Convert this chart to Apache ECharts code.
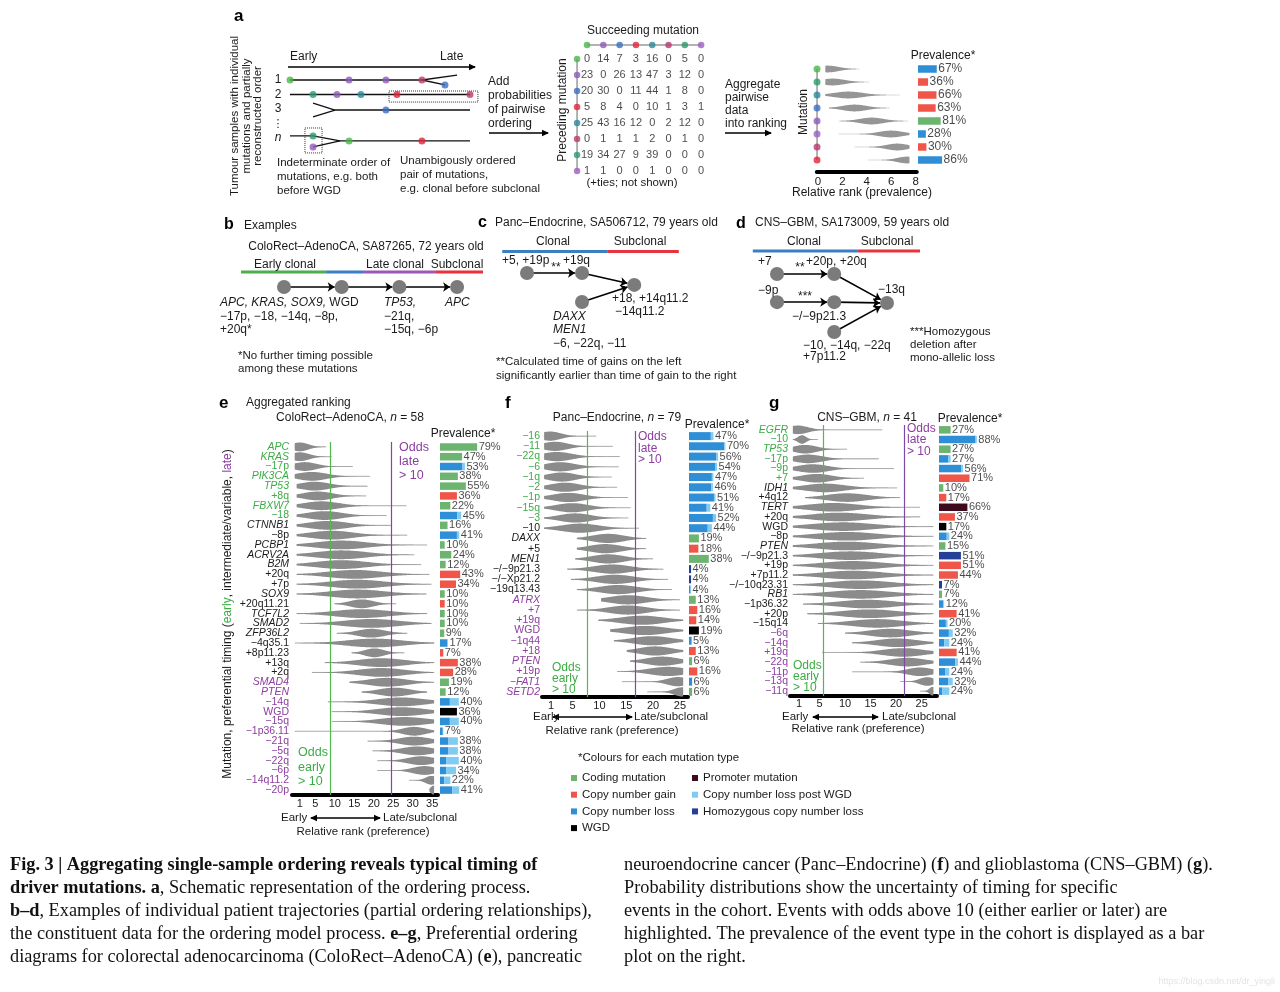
<!DOCTYPE html>
<html><head><meta charset="utf-8">
<script src="https://cdn.jsdelivr.net/npm/echarts@6/dist/echarts.min.js"></script>
<style>html,body{margin:0;padding:0;background:#fff;width:1280px;height:992px;position:relative;overflow:hidden}</style>
</head><body>
<script>
// ================= DATA =================
// ---- Panel e: ColoRect-AdenoCA ----
const eRows=['APC','KRAS','−17p','PIK3CA','TP53','+8q','FBXW7','−18','CTNNB1','−8p','PCBP1','ACRV2A','B2M','+20q','+7p','SOX9','+20q11.21','TCF7L2','SMAD2','ZFP36L2','−4q35.1','+8p11.23','+13q','+2q','SMAD4','PTEN','−14q','WGD','−15q','−1p36.11','−21q','−5q','−22q','−6p','−14q11.2','−20p'];
const eItalic=['APC','KRAS','PIK3CA','TP53','FBXW7','CTNNB1','PCBP1','ACRV2A','B2M','SOX9','TCF7L2','SMAD2','ZFP36L2','SMAD4','PTEN'];
const eClass=['E','E','E','E','E','E','E','E','M','M','M','M','M','M','M','M','M','M','M','M','M','M','M','M','L','L','L','L','L','L','L','L','L','L','L','L'];
const eLo=[-0.3,-0.3,-0.3,-0.3,0.2,0.2,0.2,0.2,0.2,0.2,0.2,0.2,0.2,0.2,0.2,0.2,9.9,0.2,1,10.5,-0.3,14.3,7.4,4.1,13.8,16.9,8.2,9.2,9.2,-0.3,18.4,19.7,20.9,20.9,29.1,34.3];
const ePk=[1.0,1.0,2.3,4.1,4.8,5.6,6.6,7.4,8.2,9.2,11.7,11.7,11.7,15.1,15.8,15.8,16.9,16.9,19.4,19.4,20.2,20.2,22,22,23.5,25.3,27.1,27.1,27.9,30.4,30.4,31.2,32.2,33,34.8,35.3];
const eHi=[7.7,9.2,14.6,19,18.4,18.1,28.4,23.3,24.5,28.6,33.7,30.4,32.2,34.3,34.8,33.5,25.8,33.7,34.8,28.6,35.5,27.9,35.5,35.5,35.5,33.7,35.5,35.5,35.5,35.5,35.5,35.5,35.5,35.5,35.5,35.5];
const eSd=[2.2,2.4,3,3.8,3.8,3.8,4.5,4.5,5,5.5,6.5,6.5,6.5,7,7,7,3,7,7,3.5,7,2.5,6,6,5,4,6,6,6,3,4,4,3.5,3,1.5,0.7];
const eType=['C','C','L','C','C','G','C','L','C','L','C','C','C','G','G','C','G','C','C','C','L','G','G','G','C','C','L','W','L','L','L','L','L','L','L','L'];
const ePrev=[79,47,53,38,55,36,22,45,16,41,10,24,12,43,34,10,10,10,10,9,17,7,38,28,19,12,40,36,40,7,38,38,40,34,22,41];
const ePost=[0,0,6,0,0,0,0,8,0,5,0,0,0,0,0,0,0,0,0,0,2,0,0,0,0,0,19,0,19,1,20,20,27,21,13,15];
const eTicks=[1,5,10,15,20,25,30,35];
const eOdds=[8.7,24.6];

// ---- Panel f: Panc-Endocrine ----
const fRows=['−16','−11','−22q','−6','−1q','−2','−1p','−15q','−3','−10','DAXX','+5','MEN1','−/−9p21.3','−/−Xp21.2','−19q13.43','ATRX','+7','+19q','WGD','−1q44','+18','PTEN','+19p','−FAT1','SETD2'];
const fItalic=['DAXX','MEN1','ATRX','PTEN','−FAT1','SETD2'];
const fClass=['E','E','E','E','E','E','E','E','E','M','M','M','M','M','M','M','L','L','L','L','L','L','L','L','L','L'];
const fLo=[-0.3,-0.3,-0.3,-0.3,-0.3,-0.3,-0.3,-0.3,-0.3,-0.3,5.8,5.8,5.5,4,4.7,5.8,10.3,5.8,9.8,12,12.7,15.1,15.7,13.3,14.2,18.9];
const fPk=[0.8,1.7,2.1,2.7,3.0,3.6,4.2,4.9,5.5,6.4,11.6,11.1,11.6,12.4,12.9,13.5,15.3,15.3,17.9,18.5,19.8,20.4,21.7,22.8,24.6,25.4];
const fHi=[9.4,12.5,13.8,13.6,12.3,13.3,15.3,15.8,15.4,17.4,18.7,18.7,20,21.9,22.8,23.5,25,25,25.6,25.6,25.6,25.6,25.6,25.6,25.6,25.6];
const fSd=[2,2.4,2.8,2.8,2.6,2.8,3,3,3,3.5,3,3,3,3.5,3.5,3.5,3.5,3.5,4,4,3.5,3,3,3.5,2,1.5];
const fType=['L','L','L','L','L','L','L','L','L','L','C','G','C','H','H','L','C','G','G','W','L','G','C','G','L','C'];
const fPrev=[47,70,56,54,47,46,51,41,52,44,19,18,38,4,4,4,13,16,14,19,5,13,6,16,6,6];
const fPost=[5,2,4,4,3,3,3,7,6,8,0,0,0,0,0,1,0,0,0,0,0,0,0,0,0,0];
const fTicks=[1,5,10,15,20,25];
const fOdds=[7.7,16.6];

// ---- Panel g: CNS-GBM ----
const gRows=['EGFR','−10','TP53','−17p','−9p','+7','IDH1','+4q12','TERT','+20q','WGD','−8p','PTEN','−/−9p21.3','+19p','+7p11.2','−/−10q23.31','RB1','−1p36.32','+20p','−15q14','−6q','−14q','+19q','−22q','−11p','−13q','−11q'];
const gItalic=['EGFR','TP53','IDH1','TERT','PTEN','RB1'];
const gClass=['E','E','E','E','E','E','M','M','M','M','M','M','M','M','M','M','M','M','M','M','M','L','L','L','L','L','L','L'];
const gLo=[-0.2,-0.2,-0.2,-0.2,-0.2,-0.2,-0.2,2.2,-0.2,-0.2,-0.2,-0.2,-0.2,-0.2,-0.2,-0.2,-0.2,-0.2,1.8,2.6,4.7,10,11.4,5.5,13,11.4,20.8,24.7];
const gPk=[0.8,1.6,2.2,2.8,3.7,4.5,6.1,10.4,7.7,9,9.6,10.4,10.4,11,11.6,11.6,13,13,14.3,14.9,16.3,18.8,20.2,21.4,22.2,24.7,26.1,27.1];
const gHi=[17.3,4.7,10.4,16.6,19.6,13.7,20.2,20.8,24.7,24.7,27.3,27.3,27.3,27.3,27.3,27.3,27.3,27.3,27.3,27.3,27.3,27.3,27.3,27.3,27.3,27.3,27.3,27.3];
const gSd=[2,0.8,2.3,2.8,3,3,4,4,5,5.5,6,6,6,6,6,6,6,6,5.5,5.5,5,4,4,4,3.5,2.5,1.5,0.6];
const gType=['C','L','C','L','L','G','C','G','P','G','W','L','C','H','G','G','H','C','L','G','L','L','L','G','L','L','L','L'];
const gPrev=[27,88,27,27,56,71,10,17,66,37,17,24,15,51,51,44,7,7,12,41,20,32,24,41,44,24,32,24];
const gPost=[0,3,0,5,4,0,0,0,0,0,0,6,0,0,0,0,0,0,2,0,4,9,12,0,6,10,10,16];
const gTicks=[1,5,10,15,20,25];
const gOdds=[5.7,21.6];

// ---- Panel a: schematic ----
const aMatrixCols=['gr','pu','bl','rd','tl','cr','tg','vi'];
const aMatrix=[[0,14,7,3,16,0,5,0],[23,0,26,13,47,3,12,0],[20,30,0,11,44,1,8,0],[5,8,4,0,10,1,3,1],[25,43,16,12,0,2,12,0],[0,1,1,1,2,0,1,0],[19,34,27,9,39,0,0,0],[1,1,0,0,1,0,0,0]];
const aMiniMut=['gr','tg','tl','bl','pu','vi','cr','rd'];
const aLo=[0.6,0.6,0.6,0.9,1.7,1.7,3.0,4.1];
const aPk=[0.8,1.2,2.5,3.0,4.4,6.0,6.5,7.3];
const aHi=[3.4,4.2,6.7,5.9,7.4,7.5,7.5,7.5];
const aSd=[0.9,1.0,1.2,1.0,1.0,1.0,0.9,0.8];
const aType=['L','G','G','G','C','L','G','L'];
const aPrev=[67,36,66,63,81,28,30,86];
const aTicks=[0,2,4,6,8];
// timeline schematic (x: early->late position, y: sample row)
const tlPaths=[[[0,1],[7.33,1],[9.28,0.66]],[[7.33,1],[8.61,1.34]],[[0,2],[10,2]],[[1.28,2.6],[2.5,3.07],[10,3.07]],[[1.28,3.54],[2.5,3.07]],[[0,4.86],[1.28,4.86],[2.78,5.2],[10,5.2]],[[1.28,5.62],[2.78,5.2]]];
const tlBoxes=[[[5.5,1.76],[10.44,1.76],[10.44,2.52],[5.5,2.52],[5.5,1.76]],[[0.83,4.31],[1.78,4.31],[1.78,6.03],[0.83,6.03],[0.83,4.31]]];
const tlDots=[[0,1,'gr'],[3.28,1,'pu'],[5.33,1,'pu'],[7.33,1,'cr'],[8.61,1.34,'bl'],[1.28,2,'tg'],[2.61,2,'pu'],[3.94,2,'tl'],[5.94,2,'rd'],[10,2,'cr'],[5.33,3.07,'bl'],[1.28,4.86,'tg'],[1.28,5.62,'pu'],[3.28,5.2,'gr'],[7.33,5.2,'rd']];

// ---- Panels b, c, d: patient trajectories (node layout units) ----
const bNodes=[[0,0],[1,0],[2,0],[3,0]];
const bLinks=[[0,1],[1,2],[2,3]];
const bPhases=[[-0.745,0.73,'early'],[0.73,1.37,'clonal'],[1.37,2.62,'late'],[2.62,3.45,'sub']];
const cNodes=[[0,0],[1,0],[1.95,0.41],[1,1.0]];
const cLinks=[[0,1],[1,2],[3,2]];
const cPhases=[[-0.45,1.47,'clonal'],[1.47,2.76,'sub']];
const dNodes=[[0,0],[1.04,0],[0,0.97],[1.04,0.97],[1.04,2.0],[2.0,1.0]];
const dLinks=[[0,1],[2,3],[1,5],[3,5],[4,5]];
const dPhases=[[-0.44,1.47,'clonal'],[1.47,2.6,'sub']];

// ================= STYLE =================
const FONT='"Liberation Sans", Arial, Helvetica, sans-serif';
const SERIF='"Liberation Serif", "Times New Roman", serif';
const BAR={C:'#6cb46f',G:'#ef5549',L:'#2f8fd6',LW:'#80cbf2',W:'#000000',P:'#3d0b1d',H:'#233f96'};
const TNAME={C:'Coding mutation',G:'Copy number gain',L:'Copy number loss',W:'WGD',P:'Promoter mutation',LW:'Copy number loss post WGD',H:'Homozygous copy number loss'};
const TXT_G='#3cac45',TXT_P='#8c3d9f',LINE_G='#52b84f',LINE_P='#7d4aa3',INK='#1a1a1a';
const MUT={gr:'#49b649',pu:'#8e5bb9',bl:'#3c6ec3',rd:'#e2233b',tl:'#2a8a9c',cr:'#b93a6d',tg:'#2d9a6d',vi:'#9b62c0'};
const PHASE={early:'#4cae4c',clonal:'#3a7fc4',late:'#9b59b6',sub:'#e8323c'};

// ================= HELPERS =================
function newCtx(){return {grids:[],xAxes:[],yAxes:[],series:[]};}
function addGrid(ctx,g,xa,yas){
  ctx.grids.push(g);const gi=ctx.grids.length-1;xa.gridIndex=gi;ctx.xAxes.push(xa);const xi=ctx.xAxes.length-1;
  const yi=[];(Array.isArray(yas)?yas:[yas]).forEach(y=>{y.gridIndex=gi;ctx.yAxes.push(y);yi.push(ctx.yAxes.length-1);});
  return {x:xi,y:yi};
}
function hidden(min,max,inv){return {type:'value',min,max,inverse:!!inv,show:false};}
function mount(name,ctx,extra){
  const div=document.createElement('div');
  div.style.cssText='position:absolute;left:0;top:0;width:1280px;height:992px;';
  document.body.appendChild(div);
  try{
    const ch=echarts.init(div,null,{renderer:'canvas',width:1280,height:992});
    const opt=Object.assign({animation:false},extra||{});
    if(ctx){opt.grid=ctx.grids;opt.xAxis=ctx.xAxes;opt.yAxis=ctx.yAxes;opt.series=ctx.series;}
    ch.setOption(opt);
  }catch(e){setTimeout(()=>{throw new Error('['+name+'] '+e.message);});}
}
function violinRender(W,fill,tail){
  return function(params,api){
    const lo=api.value(0),pk=api.value(1),hi=api.value(2),sd=api.value(3),row=api.value(4);
    const N=90,top=[],bot=[];
    for(let k=0;k<=N;k++){
      const x=lo+(hi-lo)*k/N,z=(x-pk)/sd;
      const h=W*Math.exp(-0.5*z*z);
      const p=api.coord([x,row]);
      top.push([p[0],p[1]-h]);bot.unshift([p[0],p[1]+h]);
    }
    const a=api.coord([lo,row]),b=api.coord([hi,row]);
    return {type:'group',silent:true,children:[
      {type:'line',shape:{x1:a[0],y1:a[1],x2:b[0],y2:b[1]},style:{stroke:tail||'#a9a9a9',lineWidth:1}},
      {type:'polygon',shape:{points:top.concat(bot)},style:{fill:fill||'#8b8b8b'}}]};
  };
}
function barBlock(ctx,grid,type,prev,post,bw,fs){
  const n=type.length;
  const a=addGrid(ctx,grid,hidden(0,100),[{type:'category',inverse:true,data:type.map((t,i)=>'r'+i),show:false},hidden(-0.5,n-0.5,true)]);
  ['C','G','L','H','P','W'].forEach(k=>{
    if(!type.includes(k))return;
    ctx.series.push({type:'bar',name:TNAME[k],xAxisIndex:a.x,yAxisIndex:a.y[0],stack:'s'+a.x,barWidth:bw,itemStyle:{color:BAR[k]},
      data:type.map((t,i)=>t===k?prev[i]-(post?post[i]:0):0),silent:true});
  });
  if(post)ctx.series.push({type:'bar',name:TNAME.LW,xAxisIndex:a.x,yAxisIndex:a.y[0],stack:'s'+a.x,barWidth:bw,itemStyle:{color:BAR.LW},data:post.slice(),silent:true});
  ctx.series.push({type:'scatter',xAxisIndex:a.x,yAxisIndex:a.y[1],symbolSize:1,itemStyle:{color:'rgba(0,0,0,0)'},data:prev.map((v,i)=>[v,i]),
    label:{show:true,position:'right',distance:1,formatter:p=>p.value[0]+'%',fontSize:fs||11,color:INK,fontFamily:FONT},silent:true});
}
function rankingPanel(ctx,P){
  const n=P.rows.length;
  const labels=P.rows.map((r,i)=>({value:r,textStyle:{color:P.cls[i]==='E'?TXT_G:(P.cls[i]==='L'?TXT_P:INK),fontStyle:P.italic.includes(r)?'italic':'normal'}}));
  const a=addGrid(ctx,{left:P.vx,top:P.top,width:P.vw,height:P.h},
    {type:'value',min:P.xmin,max:P.xmax,axisLine:{show:true,onZero:false,lineStyle:{color:'#000',width:4}},axisTick:{show:false},splitLine:{show:false},
      axisLabel:{customValues:P.ticks,fontSize:11,color:INK,margin:P.tm,fontFamily:FONT}},
    [{type:'category',inverse:true,data:labels,position:'left',axisLine:{show:false},axisTick:{show:false},splitLine:{show:false},axisLabel:{interval:0,margin:P.lm,fontSize:10.5,fontFamily:FONT}},
     hidden(-0.5,n-0.5,true)]);
  ctx.series.push({type:'custom',xAxisIndex:a.x,yAxisIndex:a.y[1],renderItem:violinRender(P.W),encode:{x:[0,1,2],y:4},clip:false,silent:true,
    data:P.rows.map((r,i)=>[P.lo[i],P.pk[i],P.hi[i],P.sd[i],i]),
    markLine:{symbol:'none',silent:true,label:{show:false},data:[{xAxis:P.odds[0],lineStyle:{color:LINE_G,width:1.2,type:'solid'}},{xAxis:P.odds[1],lineStyle:{color:LINE_P,width:1.2,type:'solid'}}]}});
  barBlock(ctx,{left:P.bx,top:P.top,width:P.bw,height:P.h},P.type,P.prev,P.post,P.barW,11);
}

// ================= PANELS e, f, g =================
const ctxE=newCtx();
rankingPanel(ctxE,{rows:eRows,italic:eItalic,cls:eClass,lo:eLo,pk:ePk,hi:eHi,sd:eSd,type:eType,prev:ePrev,post:ePost,ticks:eTicks,odds:eOdds,
  vx:292,vw:146,top:442,h:353,xmin:-1,xmax:36.5,bx:440,bw:47,W:4.4,barW:7.5,lm:3,tm:3});
mount('e',ctxE);
const ctxF=newCtx();
rankingPanel(ctxF,{rows:fRows,italic:fItalic,cls:fClass,lo:fLo,pk:fPk,hi:fHi,sd:fSd,type:fType,prev:fPrev,post:fPost,ticks:fTicks,odds:fOdds,
  vx:542,vw:146,top:431,h:266,xmin:-0.7,xmax:26.5,bx:689,bw:52,W:4.6,barW:8,lm:2,tm:3});
mount('f',ctxF);
const ctxG=newCtx();
rankingPanel(ctxG,{rows:gRows,italic:gItalic,cls:gClass,lo:gLo,pk:gPk,hi:gHi,sd:gSd,type:gType,prev:gPrev,post:gPost,ticks:gTicks,odds:gOdds,
  vx:790,vw:147,top:425,h:271,xmin:-0.76,xmax:28,bx:939,bw:43,W:4.3,barW:7.5,lm:2,tm:2});
const legendBase={orient:'vertical',itemWidth:6,itemHeight:6,itemGap:4.7,icon:'rect',selectedMode:false,
  textStyle:{fontSize:11.5,fontFamily:FONT,color:INK,lineHeight:12}};
mount('g',ctxG,{legend:[Object.assign({left:566,top:767,data:[TNAME.C,TNAME.G,TNAME.L,TNAME.W]},legendBase),
                        Object.assign({left:687,top:767,data:[TNAME.P,TNAME.LW,TNAME.H]},legendBase)]});

// ================= PANEL a =================
const ctxAm=newCtx();
(function(ctx){
  const a=addGrid(ctx,{left:816.8,top:62.5,width:100,height:104},
    {type:'value',min:-0.1,max:8.1,offset:5.5,axisLine:{show:true,onZero:false,lineStyle:{color:'#000',width:4}},axisTick:{show:false},splitLine:{show:false},
      axisLabel:{customValues:aTicks,fontSize:11.5,color:INK,margin:4,fontFamily:FONT}},
    hidden(-0.5,7.5,true));
  ctx.series.push({type:'custom',xAxisIndex:a.x,yAxisIndex:a.y[0],renderItem:violinRender(3.4,'#959595','#dadada'),encode:{x:[0,1,2],y:4},clip:false,silent:true,
    data:aMiniMut.map((m,i)=>[aLo[i],aPk[i],aHi[i],aSd[i],i])});
  ctx.series.push({type:'line',xAxisIndex:a.x,yAxisIndex:a.y[0],data:[[-0.08,0],[-0.08,7]],symbol:'none',lineStyle:{color:'#9a9a9a',width:1.5},silent:true,z:3});
  ctx.series.push({type:'scatter',xAxisIndex:a.x,yAxisIndex:a.y[0],symbolSize:7,silent:true,z:4,
    data:aMiniMut.map((m,i)=>({value:[-0.08,i],itemStyle:{color:MUT[m]}}))});
  barBlock(ctx,{left:918,top:62.5,width:28,height:104},aType,aPrev,null,7.5,12);
})(ctxAm);
mount('a-rank',ctxAm);

const ctxAx=newCtx();
(function(ctx){
  const a=addGrid(ctx,{left:570.7,top:35,width:138.6,height:144},hidden(-1,7.5),hidden(-1.5,7.5,true));
  const X=a.x,Y=a.y[0];
  ctx.series.push({type:'line',xAxisIndex:X,yAxisIndex:Y,data:[[0,-0.875],[7,-0.875]],symbol:'none',lineStyle:{color:'#9a9a9a',width:1.5},silent:true});
  ctx.series.push({type:'line',xAxisIndex:X,yAxisIndex:Y,data:[[-0.61,0],[-0.61,7]],symbol:'none',lineStyle:{color:'#9a9a9a',width:1.5},silent:true});
  const dots=[];
  aMatrixCols.forEach((m,j)=>dots.push({value:[j,-0.875],itemStyle:{color:MUT[m]}}));
  aMatrixCols.forEach((m,i)=>dots.push({value:[-0.61,i],itemStyle:{color:MUT[m]}}));
  ctx.series.push({type:'scatter',xAxisIndex:X,yAxisIndex:Y,symbolSize:6.5,data:dots,silent:true,z:4});
  const nums=[];aMatrix.forEach((row,i)=>row.forEach((v,j)=>nums.push([j,i,v])));
  ctx.series.push({type:'scatter',xAxisIndex:X,yAxisIndex:Y,symbolSize:1,itemStyle:{color:'rgba(0,0,0,0)'},data:nums,silent:true,
    label:{show:true,position:'inside',formatter:p=>String(p.value[2]),fontSize:11,color:INK,fontFamily:FONT}});
})(ctxAx);
mount('a-matrix',ctxAx);

const ctxAt=newCtx();
(function(ctx){
  const a=addGrid(ctx,{left:275.6,top:43.75,width:208.8,height:111.65},hidden(-0.8,10.8),hidden(-1.5,6.2,true));
  const X=a.x,Y=a.y[0];
  tlPaths.forEach(c=>ctx.series.push({type:'line',xAxisIndex:X,yAxisIndex:Y,data:c,symbol:'none',lineStyle:{color:'#111',width:1.3},silent:true}));
  tlBoxes.forEach(c=>ctx.series.push({type:'line',xAxisIndex:X,yAxisIndex:Y,data:c,symbol:'none',lineStyle:{color:'#333',width:1,type:'dotted'},silent:true}));
  ctx.series.push({type:'scatter',xAxisIndex:X,yAxisIndex:Y,symbolSize:7,silent:true,z:4,
    data:tlDots.map(d=>({value:[d[0],d[1]],itemStyle:{color:MUT[d[2]]}}))});
})(ctxAt);
mount('a-timeline',ctxAt);

// ================= PANELS b, c, d =================
function trajectory(name,grid,nodes,links,phases,barY){
  const ctx=newCtx();
  const a=addGrid(ctx,grid.g,hidden(grid.x[0],grid.x[1]),hidden(grid.y[0],grid.y[1],true));
  const X=a.x,Y=a.y[0];
  phases.forEach(p=>ctx.series.push({type:'line',xAxisIndex:X,yAxisIndex:Y,data:[[p[0],barY],[p[1],barY]],symbol:'none',lineStyle:{color:PHASE[p[2]],width:3},silent:true}));
  ctx.series.push({type:'graph',coordinateSystem:'cartesian2d',xAxisIndex:X,yAxisIndex:Y,layout:'none',symbolSize:14,itemStyle:{color:'#7b7b7b'},
    data:nodes.map((p,i)=>({name:name+i,value:p})),links:links.map(l=>({source:l[0],target:l[1]})),
    edgeSymbol:['none','arrow'],edgeSymbolSize:[0,7],lineStyle:{color:'#000',width:1.6,opacity:1,curveness:0},label:{show:false},silent:true,z:3});
  mount(name,ctx);
}
trajectory('b',{g:{left:226.3,top:257,width:265.4,height:45},x:[-1,3.6],y:[-1,0.5]},bNodes,bLinks,bPhases,-0.5);
trajectory('c',{g:{left:494,top:244,width:187,height:66.7},x:[-0.6,2.8],y:[-1,1.3]},cNodes,cLinks,cPhases,-0.74);
trajectory('d',{g:{left:744,top:245,width:181.5,height:95.7},x:[-0.6,2.7],y:[-1,2.3]},dNodes,dLinks,dPhases,-0.79);

// ================= TEXT / ANNOTATION =================
const G=[];
function T(x,y,text,o){o=o||{};G.push({type:'text',x,y,rotation:o.r||0,silent:true,z:10,
  style:{text,fontSize:o.fs||12,fontFamily:o.ff||FONT,fontWeight:o.fw||'normal',fontStyle:o.it?'italic':'normal',fill:o.c||INK,align:o.a||'left',verticalAlign:'middle',rich:o.rich}});}
function ARW(x1,x2,y,both){
  G.push({type:'line',silent:true,shape:{x1,y1:y,x2,y2:y},style:{stroke:'#000',lineWidth:1.5}});
  G.push({type:'polygon',silent:true,shape:{points:[[x2+1,y],[x2-6,y-3.3],[x2-6,y+3.3]]},style:{fill:'#000'}});
  if(both)G.push({type:'polygon',silent:true,shape:{points:[[x1-1,y],[x1+6,y-3.3],[x1+6,y+3.3]]},style:{fill:'#000'}});
}
const R90=Math.PI/2;
// panel a
T(234,16,'a',{fw:'bold',fs:17,c:'#000'});
T(235,116,'Tumour samples with individual',{r:R90,a:'center',fs:11.5});
T(246.5,116,'mutations and partially',{r:R90,a:'center',fs:11.5});
T(258,116,'reconstructed order',{r:R90,a:'center',fs:11.5});
T(290,57,'Early');T(440,57,'Late');ARW(288,475,67);
T(278,80,'1',{a:'center'});T(278,95,'2',{a:'center'});T(278,109,'3',{a:'center'});
T(278,124,'⋮',{a:'center',fs:11,ff:'"DejaVu Sans"'});T(278,138,'n',{a:'center',it:true});
T(277,163,'Indeterminate order of',{fs:11.5});T(277,177,'mutations, e.g. both',{fs:11.5});T(277,191,'before WGD',{fs:11.5});
T(400,161,'Unambigously ordered',{fs:11.5});T(400,175,'pair of mutations,',{fs:11.5});T(400,189,'e.g. clonal before subclonal',{fs:11.5});
T(488,82,'Add');T(488,96,'probabilities');T(488,110,'of pairwise');T(488,124,'ordering');ARW(489,548,133);
T(643,31,'Succeeding mutation',{a:'center'});
T(563,110,'Preceding mutation',{r:R90,a:'center'});
T(632,183,'(+ties; not shown)',{a:'center',fs:11.5});
T(725,85,'Aggregate');T(725,98,'pairwise');T(725,111,'data');T(725,124,'into ranking');ARW(725,771,133);
T(804,112,'Mutation',{r:R90,a:'center'});
T(943,56,'Prevalence*',{a:'center'});
T(862,193,'Relative rank (prevalence)',{a:'center'});
// panel b
T(224,225,'b',{fw:'bold',fs:16,c:'#000'});T(244,226,'Examples');
T(366,247,'ColoRect–AdenoCA, SA87265, 72 years old',{a:'center'});
T(285,265,'Early clonal',{a:'center'});T(395,265,'Late clonal',{a:'center'});T(457,265,'Subclonal',{a:'center'});
T(220,303,'APC, KRAS, SOX9,',{it:true});T(220,317,'−17p, −18, −14q, −8p,');T(220,330,'+20q*');
T(344,303,'WGD',{a:'center'});
T(384,303,'TP53,',{it:true});T(384,317,'−21q,');T(384,330,'−15q, −6p');
T(445,303,'APC',{it:true});
T(238,356,'*No further timing possible',{fs:11.5});T(238,369,'among these mutations',{fs:11.5});
// panel c
T(478,223,'c',{fw:'bold',fs:16,c:'#000'});T(495,223,'Panc–Endocrine, SA506712, 79 years old');
T(553,242,'Clonal',{a:'center'});T(640,242,'Subclonal',{a:'center'});
T(502,261,'+5, +19p');T(563,261,'+19q');T(556,268,'**',{a:'center'});
T(612,299,'+18, +14q11.2');T(615,312,'−14q11.2');
T(553,317,'DAXX',{it:true});T(553,330,'MEN1',{it:true});T(553,344,'−6, −22q, −11');
T(496,362,'**Calculated time of gains on the left',{fs:11.5});T(496,376,'significantly earlier than time of gain to the right',{fs:11.5});
// panel d
T(736,224,'d',{fw:'bold',fs:16,c:'#000'});T(755,223,'CNS–GBM, SA173009, 59 years old');
T(804,242,'Clonal',{a:'center'});T(887,242,'Subclonal',{a:'center'});
T(758,262,'+7');T(806,262,'+20p, +20q');T(800,268,'**',{a:'center'});
T(758,291,'−9p');T(805,297,'***',{a:'center'});T(878,290,'−13q');
T(792,317,'−/−9p21.3');T(803,346,'−10, −14q, −22q');T(803,357,'+7p11.2');
T(910,332,'***Homozygous',{fs:11.5});T(910,345,'deletion after',{fs:11.5});T(910,358,'mono-allelic loss',{fs:11.5});
// panel e
const RI={i:{fontStyle:'italic',fontSize:12,fontFamily:FONT,fill:INK}};
T(219,403,'e',{fw:'bold',fs:17,c:'#000'});T(246,403,'Aggregated ranking');
T(350,418,'ColoRect–AdenoCA, {i|n} = 58',{a:'center',rich:RI});
T(463,434,'Prevalence*',{a:'center'});
T(399,448,'Odds',{c:TXT_P,fs:12.5});T(399,462,'late',{c:TXT_P,fs:12.5});T(399,476,'> 10',{c:TXT_P,fs:12.5});
T(298,753,'Odds',{c:TXT_G,fs:12.5});T(298,768,'early',{c:TXT_G,fs:12.5});T(298,782,'> 10',{c:TXT_G,fs:12.5});
T(281,818,'Early',{fs:11.5});ARW(311,380,818,true);T(383,818,'Late/subclonal',{fs:11.5});
T(363,832,'Relative rank (preference)',{a:'center',fs:11.5});
T(228,614,'Mutation, preferential timing ({g|early}, intermediate/variable, {p|late})',{r:R90,a:'center',
  rich:{g:{fill:TXT_G,fontSize:12,fontFamily:FONT},p:{fill:TXT_P,fontSize:12,fontFamily:FONT}}});
// panel f
T(505,403,'f',{fw:'bold',fs:17,c:'#000'});
T(617,418,'Panc–Endocrine, {i|n} = 79',{a:'center',rich:RI});
T(717,425,'Prevalence*',{a:'center'});
T(638,437,'Odds',{c:TXT_P});T(638,449,'late',{c:TXT_P});T(638,460,'> 10',{c:TXT_P});
T(552,668,'Odds',{c:TXT_G});T(552,679,'early',{c:TXT_G});T(552,690,'> 10',{c:TXT_G});
T(533,717,'Early',{fs:11.5});ARW(553,632,717,true);T(634,717,'Late/subclonal',{fs:11.5});
T(612,731,'Relative rank (preference)',{a:'center',fs:11.5});
// panel g
T(769,403,'g',{fw:'bold',fs:17,c:'#000'});
T(867,418,'CNS–GBM, {i|n} = 41',{a:'center',rich:RI});
T(970,419,'Prevalence*',{a:'center'});
T(907,429,'Odds',{c:TXT_P});T(907,440,'late',{c:TXT_P});T(907,452,'> 10',{c:TXT_P});
T(793,666,'Odds',{c:TXT_G});T(793,677,'early',{c:TXT_G});T(793,688,'> 10',{c:TXT_G});
T(782,717,'Early',{fs:11.5});ARW(813,878,717,true);T(882,717,'Late/subclonal',{fs:11.5});
T(858,729,'Relative rank (preference)',{a:'center',fs:11.5});
// legend header
T(578,758,'*Colours for each mutation type',{fs:11.5});
// caption
const RB={b:{fontWeight:'bold',fontFamily:SERIF,fontSize:18.3,fill:'#111'}};
const cap=(x,y,t)=>T(x,y,t,{ff:SERIF,fs:18.3,c:'#111',rich:RB});
cap(10,865,'{b|Fig. 3 | Aggregating single-sample ordering reveals typical timing of}');
cap(10,888,'{b|driver mutations. a}, Schematic representation of the ordering process.');
cap(10,911,'{b|b–d}, Examples of individual patient trajectories (partial ordering relationships),');
cap(10,934,'the constituent data for the ordering model process. {b|e–g}, Preferential ordering');
cap(10,957,'diagrams for colorectal adenocarcinoma (ColoRect–AdenoCA) ({b|e}), pancreatic');
cap(624,865,'neuroendocrine cancer (Panc–Endocrine) ({b|f}) and glioblastoma (CNS–GBM) ({b|g}).');
cap(624,888,'Probability distributions show the uncertainty of timing for specific');
cap(624,911,'events in the cohort. Events with odds above 10 (either earlier or later) are');
cap(624,934,'highlighted. The prevalence of the event type in the cohort is displayed as a bar');
cap(624,957,'plot on the right.');
T(1275,982,'https://blog.csdn.net/dr_yingli',{a:'right',fs:9,c:'#e4e4e4'});
mount('text',null,{graphic:{elements:G}});
</script></body></html>
